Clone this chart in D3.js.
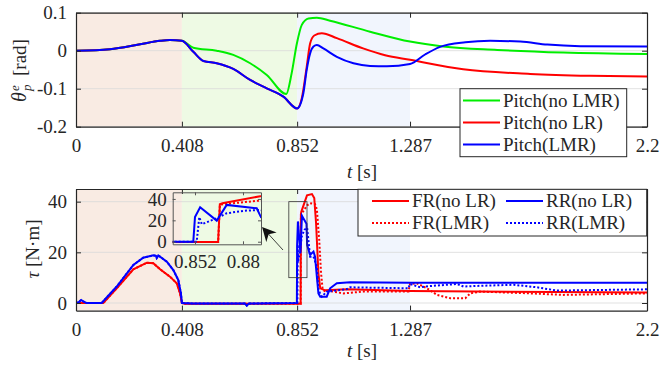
<!DOCTYPE html>
<html>
<head>
<meta charset="utf-8">
<script src="https://cdn.jsdelivr.net/npm/d3@7"></script>
<style>
  body { margin: 0; background: #fff; }
  text { font-family: "Liberation Serif", "Times New Roman", serif; fill: #262626; }
</style>
</head>
<body>
<svg width="660" height="367"></svg>
<script>
// ---- data (t in s) ----
var xTicks = [0, 0.408, 0.852, 1.287, 2.2];
var xTickLabels = ["0", "0.408", "0.852", "1.287", "2.2"];
var pitchTicks = [-0.2, -0.1, 0, 0.1];
var pitchTickLabels = ["-0.2", "-0.1", "0", "0.1"];
var tauTicks = [0, 20, 40];
var insetXTicks = [0.852, 0.88];
var insetXTickLabels = ["0.852", "0.88"];
var phaseBounds = [0, 0.408, 0.852, 1.287];
var phaseColors = ["#f9ebe3", "#eefae4", "#f1f5fd"];

var pitchNoLMR = [[0,0],[0.131,0.004],[0.247,0.017],[0.324,0.026],[0.362,0.028],[0.408,0.026],[0.452,0.008],[0.542,0.0],[0.606,-0.011],[0.671,-0.033],[0.735,-0.064],[0.81,-0.114],[0.831,-0.059],[0.851,0.019],[0.870,0.068],[0.896,0.085],[0.928,0.087],[0.979,0.079],[1.133,0.05],[1.287,0.024],[1.415,0.011],[1.623,0.002],[1.877,-0.005],[2.2,-0.009]];
var pitchNoLR = [[0,0],[0.131,0.004],[0.247,0.017],[0.324,0.026],[0.362,0.028],[0.408,0.026],[0.452,-0.003],[0.491,-0.027],[0.542,-0.033],[0.606,-0.048],[0.671,-0.077],[0.735,-0.099],[0.799,-0.121],[0.852,-0.152],[0.870,-0.125],[0.889,-0.042],[0.902,0.019],[0.918,0.040],[0.947,0.046],[1.005,0.033],[1.106,0.006],[1.191,-0.012],[1.287,-0.024],[1.492,-0.049],[1.75,-0.061],[1.98,-0.066],[2.2,-0.068]];
var pitchLMR = [[0,0],[0.131,0.004],[0.247,0.017],[0.324,0.026],[0.362,0.028],[0.408,0.026],[0.452,-0.003],[0.491,-0.027],[0.542,-0.033],[0.606,-0.048],[0.671,-0.077],[0.735,-0.099],[0.799,-0.121],[0.852,-0.152],[0.876,-0.112],[0.889,-0.05],[0.902,-0.007],[0.915,0.011],[0.928,0.015],[0.953,0.006],[1.005,-0.016],[1.069,-0.033],[1.133,-0.04],[1.198,-0.041],[1.287,-0.035],[1.345,-0.01],[1.403,0.01],[1.5,0.022],[1.596,0.026],[1.712,0.024],[1.816,0.016],[1.943,0.012],[2.2,0.011]];

var frNoLR = [[0,0],[0.105,0],[0.157,5.8],[0.221,13.3],[0.273,15.9],[0.298,15.7],[0.324,13.3],[0.362,10.4],[0.388,7.8],[0.401,3.8],[0.408,0],[0.42,-0.3],[0.8655,-0.3],[0.8665,35],[0.868,36],[0.89,42.5],[0.909,43],[0.918,41.4],[0.925,31.5],[0.934,11.7],[0.941,5.8],[0.96,5],[1.044,5.4],[1.287,4.7],[2.2,4.1]];
var frLMR = [[0,0],[0.105,0],[0.157,5.8],[0.221,13.3],[0.273,15.9],[0.298,15.7],[0.324,13.3],[0.362,10.4],[0.388,7.8],[0.401,3.8],[0.408,0],[0.42,-0.3],[0.8655,-0.3],[0.8665,34],[0.868,35],[0.89,38.5],[0.902,39.4],[0.921,39],[0.928,37],[0.937,25],[0.944,12],[0.95,5.5],[0.96,4.5],[0.979,4.7],[1.03,3.8],[1.108,4.5],[1.281,4.5],[1.287,7.5],[1.313,7.8],[1.352,5.8],[1.391,3.2],[1.442,1.9],[1.5,1.9],[1.519,3.8],[1.557,4.5],[1.75,3.8],[1.879,3.2],[2.2,3.8]];
var rrNoLR = [[0,0],[0.01,0.3],[0.02,1.2],[0.03,0.5],[0.04,0],[0.099,0],[0.157,6.5],[0.221,15],[0.259,17.9],[0.298,18.8],[0.308,18.6],[0.311,17.8],[0.317,18.8],[0.35,16.3],[0.375,13],[0.394,9.1],[0.404,4],[0.408,0],[0.45,-0.2],[0.65,-0.2],[0.658,-1],[0.666,-0.2],[0.851,0],[0.852,23],[0.855,32.2],[0.8647,19.7],[0.8705,34.4],[0.888,31.3],[0.8905,22.9],[0.902,19],[0.915,20.3],[0.921,18.3],[0.928,10.4],[0.934,3.8],[0.941,2.5],[0.966,2.5],[0.979,5.8],[1.005,7.8],[1.056,8.2],[1.287,8],[2.2,8]];
var rrLMR = [[0,0],[0.01,0.3],[0.02,1.2],[0.03,0.5],[0.04,0],[0.099,0],[0.157,6.5],[0.221,15],[0.259,17.9],[0.298,18.8],[0.308,18.6],[0.311,17.8],[0.317,18.8],[0.35,16.3],[0.375,13],[0.394,9.1],[0.404,4],[0.408,0],[0.45,-0.2],[0.65,-0.2],[0.658,-1],[0.666,-0.2],[0.852,0],[0.853,0],[0.8545,23],[0.856,16.3],[0.8647,22],[0.8705,26.6],[0.881,29],[0.8905,29.7],[0.902,18.3],[0.915,18.3],[0.928,14.3],[0.934,5.1],[0.947,2.5],[0.966,4.5],[1.044,5.5],[1.056,6.2],[1.281,5.8],[1.287,7.5],[1.326,6.2],[1.365,6.7],[1.468,7.5],[1.493,6.5],[1.532,6.7],[1.686,7.2],[1.776,6.2],[1.853,4.9],[2.2,5.4]];

var zoomBox = {t0: 0.82, t1: 0.89, v0: 10, v1: 40};

// ---- setup ----
var svg = d3.select("svg");
var fs = 19;
var axisCol = "#262626";

var x = d3.scaleLinear().domain([0, 2.2]).range([76, 647]);
var y1 = d3.scaleLinear().domain([-0.2, 0.1]).range([126.7, 12.7]);
var y2 = d3.scaleLinear().domain([-3, 45]).range([310.6, 189.0]);

var defs = svg.append("defs");
function clip(id, x0, x1, yTop, yBot) {
  defs.append("clipPath").attr("id", id).append("rect")
    .attr("x", x0).attr("y", yTop).attr("width", x1 - x0).attr("height", yBot - yTop);
}

function panel(id, xs, ys, yTicks, yLabels, showXLabels) {
  var x0 = xs.range()[0], x1 = xs.range()[1];
  var yb = ys.range()[0], yt = ys.range()[1];
  var g = svg.append("g");
  clip(id, x0, x1, yt, yb);

  // phase shading
  g.selectAll("rect.phase").data(phaseColors).enter().append("rect")
    .attr("x", function(d, i) { return xs(phaseBounds[i]); })
    .attr("y", yt)
    .attr("width", function(d, i) { return xs(phaseBounds[i + 1]) - xs(phaseBounds[i]); })
    .attr("height", yb - yt)
    .attr("fill", function(d) { return d; });

  // grid
  g.selectAll("line.grid").data(yTicks).enter().append("line")
    .attr("x1", x0).attr("x2", x1)
    .attr("y1", function(d) { return ys(d); }).attr("y2", function(d) { return ys(d); })
    .attr("stroke", "#d9d9d9").attr("stroke-width", 0.8);

  var lay = g.append("g").attr("clip-path", "url(#" + id + ")");

  var ax = svg.append("g").attr("class", "axes");
  ax.append("g").attr("transform", "translate(0," + yb + ")")
    .call(d3.axisBottom(xs).tickValues(xTicks).tickSize(-5).tickSizeOuter(0).tickPadding(12)
      .tickFormat(function(d, i) { return xTickLabels[i]; }));
  ax.append("g").attr("transform", "translate(0," + yt + ")")
    .call(d3.axisTop(xs).tickValues(xTicks).tickSize(-5).tickSizeOuter(0).tickFormat(""));
  ax.append("g").attr("transform", "translate(" + x0 + ",0)")
    .call(d3.axisLeft(ys).tickValues(yTicks).tickSize(-5).tickSizeOuter(0).tickPadding(9)
      .tickFormat(function(d, i) { return yLabels[i]; }));
  ax.append("g").attr("transform", "translate(" + x1 + ",0)")
    .call(d3.axisRight(ys).tickValues(yTicks).tickSize(-5).tickSizeOuter(0).tickFormat(""));
  return lay;
}

function styleAxes() {
  svg.selectAll(".axes path.domain").attr("stroke", axisCol).attr("stroke-width", 1.2);
  svg.selectAll(".axes .tick line").attr("stroke", axisCol);
  svg.selectAll(".axes text").attr("font-size", fs).attr("font-family", "Liberation Serif").attr("fill", axisCol);
}

// ---- top panel: pitch ----
var lay1 = panel("c1", x, y1, pitchTicks, pitchTickLabels);
var line1 = d3.line().x(function(d) { return x(d[0]); }).y(function(d) { return y1(d[1]); }).curve(d3.curveMonotoneX);
var pitchSeries = [
  {data: pitchNoLMR, color: "#00ee00", name: "Pitch(no LMR)"},
  {data: pitchNoLR, color: "#ff0000", name: "Pitch(no LR)"},
  {data: pitchLMR, color: "#0000ff", name: "Pitch(LMR)"}
];
lay1.selectAll("path.s").data(pitchSeries).enter().append("path")
  .attr("d", function(d) { return line1(d.data); })
  .attr("fill", "none").attr("stroke", function(d) { return d.color; }).attr("stroke-width", 2);

// ---- bottom panel: torque ----
var lay2 = panel("c2", x, y2, tauTicks, ["0", "20", "40"]);
var line2 = d3.line().x(function(d) { return x(d[0]); }).y(function(d) { return y2(d[1]); });
var tauSeries = [
  {data: frNoLR, color: "#ff0000", dash: null, name: "FR(no LR)"},
  {data: frLMR, color: "#ff0000", dash: "2,2", name: "FR(LMR)"},
  {data: rrNoLR, color: "#0000ff", dash: null, name: "RR(no LR)"},
  {data: rrLMR, color: "#0000ff", dash: "2,2", name: "RR(LMR)"}
];
lay2.selectAll("path.s").data(tauSeries).enter().append("path")
  .attr("d", function(d) { return line2(d.data); })
  .attr("fill", "none").attr("stroke", function(d) { return d.color; })
  .attr("stroke-width", 2).attr("stroke-dasharray", function(d) { return d.dash; });

// zoom box in main plot
svg.append("rect")
  .attr("x", x(zoomBox.t0)).attr("y", y2(zoomBox.v1))
  .attr("width", x(zoomBox.t1) - x(zoomBox.t0)).attr("height", y2(zoomBox.v0) - y2(zoomBox.v1))
  .attr("fill", "none").attr("stroke", "#333").attr("stroke-width", 0.8);

// arrow
defs.append("marker").attr("id", "arr").attr("viewBox", "0 0 10 10")
  .attr("refX", 9).attr("refY", 5).attr("markerWidth", 14).attr("markerHeight", 14)
  .attr("markerUnits", "userSpaceOnUse").attr("orient", "auto")
  .append("path").attr("d", "M0,0 L10,5 L0,10 L3,5 Z").attr("fill", "#111");
svg.append("line").attr("x1", 283).attr("y1", 250).attr("x2", 263).attr("y2", 228)
  .attr("stroke", "#111").attr("stroke-width", 0.8).attr("marker-end", "url(#arr)");

// ---- inset ----
var xi = d3.scaleLinear().domain([0.839, 0.8905]).range([172.7, 261]);
var yi = d3.scaleLinear().domain([-2.4, 46.2]).range([244.3, 192.3]);
clip("ci", 172.7, 261, 192.3, 244.3);
var ins = svg.append("g");
var lineI = d3.line().x(function(d) { return xi(d[0]); }).y(function(d) { return yi(d[1]); });
ins.append("g").attr("clip-path", "url(#ci)")
  .selectAll("path").data(tauSeries).enter().append("path")
  .attr("d", function(d) { return lineI(d.data); })
  .attr("fill", "none").attr("stroke", function(d) { return d.color; })
  .attr("stroke-width", 2).attr("stroke-dasharray", function(d) { return d.dash; });
var insAx = ins.append("g").attr("class", "axes");
insAx.append("g").attr("transform", "translate(0,244.3)")
  .call(d3.axisBottom(xi).tickValues(insetXTicks).tickSize(-3).tickSizeOuter(0).tickPadding(10)
    .tickFormat(function(d, i) { return insetXTickLabels[i]; }));
insAx.append("g").attr("transform", "translate(0,192.3)")
  .call(d3.axisTop(xi).tickValues(insetXTicks).tickSize(-3).tickSizeOuter(0).tickFormat(""));
insAx.append("g").attr("transform", "translate(172.7,0)")
  .call(d3.axisLeft(yi).tickValues(tauTicks).tickSize(-3).tickSizeOuter(0).tickPadding(6));
insAx.append("g").attr("transform", "translate(261,0)")
  .call(d3.axisRight(yi).tickValues(tauTicks).tickSize(-3).tickSizeOuter(0).tickFormat(""));

styleAxes();
insAx.selectAll("path.domain").attr("stroke", "#555").attr("stroke-width", 1);
insAx.selectAll(".tick line").attr("stroke", "#555");

// ---- axis labels ----
function tLabel(yb) {
  var t = svg.append("text").attr("x", 362).attr("y", yb).attr("text-anchor", "middle").attr("font-size", fs);
  t.append("tspan").attr("font-style", "italic").text("t");
  t.append("tspan").text(" [s]");
}
tLabel(178);
tLabel(357);

var yl1 = svg.append("g").attr("transform", "rotate(-90)");
yl1.append("text").attr("x", -102).attr("y", 26).attr("font-size", fs + 1).attr("font-style", "italic").text("θ");
yl1.append("text").attr("x", -91).attr("y", 19).attr("font-size", 13).attr("font-style", "italic").text("e");
yl1.append("text").attr("x", -91).attr("y", 31).attr("font-size", 13).attr("font-style", "italic").text("p");
yl1.append("text").attr("x", -76).attr("y", 26).attr("font-size", fs).text("[rad]");

var yl2 = svg.append("g").attr("transform", "rotate(-90)");
var t2 = yl2.append("text").attr("x", -249).attr("y", 39).attr("text-anchor", "middle").attr("font-size", fs);
t2.append("tspan").attr("font-style", "italic").text("τ");
t2.append("tspan").text(" [N·m]");

// ---- legends ----
var lg1 = svg.append("g");
lg1.append("rect").attr("x", 460).attr("y", 88.7).attr("width", 166.7).attr("height", 68)
  .attr("fill", "#fff").attr("stroke", axisCol).attr("stroke-width", 1);
var e1 = lg1.selectAll("g.e").data(pitchSeries).enter().append("g")
  .attr("transform", function(d, i) { return "translate(0," + (100.5 + i * 22) + ")"; });
e1.append("line").attr("x1", 463).attr("x2", 500).attr("stroke", function(d) { return d.color; }).attr("stroke-width", 2);
e1.append("text").attr("x", 503).attr("dy", "0.33em").attr("font-size", fs).text(function(d) { return d.name; });

var lg2 = svg.append("g");
lg2.append("rect").attr("x", 358).attr("y", 189.3).attr("width", 288.7).attr("height", 46.7)
  .attr("fill", "#fff").attr("stroke", axisCol).attr("stroke-width", 1);
var legendOrder = [tauSeries[0], tauSeries[2], tauSeries[1], tauSeries[3]];
var e2 = lg2.selectAll("g.e").data(legendOrder).enter().append("g")
  .attr("transform", function(d, i) { return "translate(" + (i % 2) * 134 + "," + (201 + Math.floor(i / 2) * 22) + ")"; });
e2.append("line").attr("x1", 372).attr("x2", 409).attr("stroke", function(d) { return d.color; })
  .attr("stroke-width", 2).attr("stroke-dasharray", function(d) { return d.dash; });
e2.append("text").attr("x", 412).attr("dy", "0.33em").attr("font-size", fs).text(function(d) { return d.name; });
</script>
</body>
</html>
